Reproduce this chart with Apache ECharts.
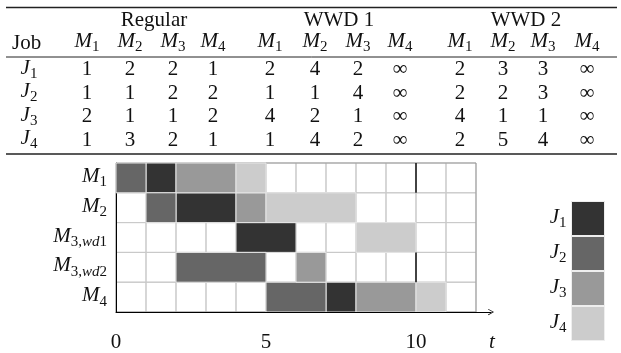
<!DOCTYPE html>
<html>
<head>
<meta charset="utf-8">
<script src="https://cdn.jsdelivr.net/npm/echarts@6/dist/echarts.min.js"></script>
<style>
  html, body { margin: 0; padding: 0; background: #fff; }
  #chart { width: 621px; height: 353px; }
</style>
</head>
<body>
<div id="chart"></div>
<script>
// ---- processing time table ----
const jobIds = ['1', '2', '3', '4'];
const machineIds = ['1', '2', '3', '4'];
const groupNames = ['Regular', 'WWD 1', 'WWD 2'];
const regularTimes = [[1, 2, 2, 1], [1, 1, 2, 2], [2, 1, 1, 2], [1, 3, 2, 1]];
const wwd1Times = [[2, 4, 2, '∞'], [1, 1, 4, '∞'], [4, 2, 1, '∞'], [1, 4, 2, '∞']];
const wwd2Times = [[2, 3, 3, '∞'], [2, 2, 3, '∞'], [4, 1, 1, '∞'], [2, 5, 4, '∞']];

// ---- schedule ----
const machines = ['M1', 'M2', 'M3wd1', 'M3wd2', 'M4'];
const machineLabels = ['{i|M}{s|1}', '{i|M}{s|2}', '{i|M}{s|3,}{si|wd}{s|1}', '{i|M}{s|3,}{si|wd}{s|2}', '{i|M}{s|4}'];
// [machine index, start, end]
const jobJ1 = [[0, 1, 2], [1, 2, 4], [2, 4, 6], [4, 7, 8]];
const jobJ2 = [[0, 0, 1], [1, 1, 2], [3, 2, 5], [4, 5, 7]];
const jobJ3 = [[0, 2, 4], [1, 4, 5], [3, 6, 7], [4, 8, 10]];
const jobJ4 = [[0, 4, 5], [1, 5, 8], [2, 8, 10], [4, 10, 11]];
const jobNames = ['J1', 'J2', 'J3', 'J4'];
const jobColors = ['#333333', '#666666', '#999999', '#cccccc'];
// machine row, time of black boundary
const boundaries = [[0, 10], [3, 10]];
const xTickLabels = [0, 5, 10];
const horizon = 12;

const FONT = '"Liberation Serif", "DejaVu Serif", serif';
const INK = '#111';

// rich styles (label version uses color, graphic version uses fill)
function makeRich(key) {
  const base = { fontFamily: FONT, verticalAlign: 'top' };
  base[key] = INK;
  return {
    r: Object.assign({}, base, { fontSize: 21 }),
    i: Object.assign({}, base, { fontSize: 21, fontStyle: 'italic' }),
    s: Object.assign({}, base, { fontSize: 15, padding: [9, 0, 0, 0] }),
    si: Object.assign({}, base, { fontSize: 15, fontStyle: 'italic', padding: [9, 0, 0, 0] })
  };
}
const labelRich = makeRich('color');
const graphicRich = makeRich('fill');

// table layout
const colX = [87, 130, 173, 213, 270, 315, 358, 400, 460, 503, 543, 587];
const groupX = [154, 339, 526];
const headY = [20.5, 43];
const rowY = [69.5, 93, 116.5, 140];
const ruleY = [7.5, 57, 154];

const graphics = [];
function cell(x, y, text, align) {
  graphics.push({
    type: 'text', x: x, y: y, silent: true,
    style: { text: text, rich: graphicRich, align: align || 'center', verticalAlign: 'middle',
             fontFamily: FONT, fontSize: 21, fill: INK }
  });
}
ruleY.forEach(function (y, k) {
  graphics.push({
    type: 'line', silent: true,
    shape: { x1: 6, y1: y, x2: 617, y2: y },
    style: { stroke: '#222', lineWidth: k === 1 ? 1 : 1.6 }
  });
});
groupNames.forEach(function (g, k) { cell(groupX[k], headY[0], g); });
cell(12, headY[1], 'Job', 'left');
[regularTimes, wwd1Times, wwd2Times].forEach(function (tbl, g) {
  machineIds.forEach(function (m, c) {
    cell(colX[g * 4 + c], headY[1], '{i|M}{s|' + m + '}');
  });
  tbl.forEach(function (row, r) {
    row.forEach(function (v, c) { cell(colX[g * 4 + c], rowY[r], String(v)); });
  });
});
jobIds.forEach(function (j, r) { cell(29, rowY[r], '{i|J}{s|' + j + '}'); });

// ---- render helpers ----
function rowBox(api, row) {
  const c = api.coord([0, row]);
  const h = api.size([0, 1])[1];
  return { top: c[1] - h / 2, h: h };
}
function renderJob(params, api) {
  const row = api.value(0);
  const b = rowBox(api, row);
  const x0 = api.coord([api.value(1), row])[0];
  const x1 = api.coord([api.value(2), row])[0];
  return {
    type: 'rect',
    shape: { x: x0, y: b.top, width: x1 - x0, height: b.h },
    style: { fill: api.visual('color'), stroke: '#e6e6e6', lineWidth: 1 }
  };
}
function renderCell(params, api) {
  const row = api.value(0);
  const b = rowBox(api, row);
  const x0 = api.coord([api.value(1), row])[0];
  const x1 = api.coord([api.value(1) + 1, row])[0];
  return {
    type: 'rect',
    shape: { x: x0, y: b.top, width: x1 - x0, height: b.h },
    style: { fill: 'none', stroke: '#c9c9c9', lineWidth: 1 }
  };
}
function renderFrame(params, api) {
  const top = rowBox(api, 0).top;
  const last = rowBox(api, machines.length - 1);
  const x0 = api.coord([0, 0])[0];
  const x1 = api.coord([horizon, 0])[0];
  return {
    type: 'rect',
    shape: { x: x0, y: top, width: x1 - x0, height: last.top + last.h - top },
    style: { fill: 'none', stroke: '#999', lineWidth: 1 }
  };
}
function renderBoundary(params, api) {
  const row = api.value(0);
  const b = rowBox(api, row);
  const x = api.coord([api.value(1), row])[0];
  return {
    type: 'line',
    shape: { x1: x, y1: b.top, x2: x, y2: b.top + b.h },
    style: { stroke: '#111', lineWidth: 1.5 }
  };
}

const cellData = [];
machines.forEach(function (m, r) {
  for (let t = 0; t < horizon; t++) cellData.push([r, t]);
});

const jobData = [jobJ1, jobJ2, jobJ3, jobJ4];
const jobSeries = jobNames.map(function (name, k) {
  return {
    name: name, type: 'custom', renderItem: renderJob, z: 3,
    itemStyle: { color: jobColors[k] },
    encode: { x: [1, 2], y: 0 },
    data: jobData[k]
  };
});

const chart = echarts.init(document.getElementById('chart'));
chart.setOption({
  animation: false,
  backgroundColor: '#fff',
  graphic: graphics,
  grid: { left: 116, top: 163, width: 375, height: 151 },
  legend: {
    orient: 'vertical', right: 16, top: 201, align: 'right', padding: 0,
    icon: 'rect', itemWidth: 33, itemHeight: 34, itemGap: 0,
    itemStyle: { borderColor: '#eee', borderWidth: 1 },
    selectedMode: false,
    data: jobNames.map(function (n, k) { return { name: n, itemStyle: { color: jobColors[k] } }; }),
    formatter: function (n) { return '{i|J}{s|' + n.slice(1) + '}'; },
    textStyle: { rich: labelRich, color: INK }
  },
  xAxis: {
    type: 'value', min: 0, max: 12.5, interval: 1,
    axisLine: {
      show: true,
      lineStyle: { color: '#000', width: 1 },
      symbol: ['none', 'path://M0,9 L5,0 L10,9 L9,9.6 L5,2.2 L1,9.6 Z'],
      symbolSize: [9, 6]
    },
    axisTick: { show: false },
    splitLine: { show: false },
    axisLabel: {
      margin: 20, fontFamily: FONT, fontSize: 21, color: INK,
      formatter: function (v) { return xTickLabels.indexOf(v) >= 0 ? String(v) : ''; }
    },
    name: 't', nameLocation: 'end', nameGap: 1,
    nameTextStyle: {
      fontFamily: FONT, fontSize: 21, fontStyle: 'italic', color: INK,
      align: 'center', verticalAlign: 'top', padding: [20, 0, 0, 0]
    },
    z: 4
  },
  yAxis: {
    type: 'category', data: machines, inverse: true,
    axisLine: { show: true, lineStyle: { color: '#000', width: 1 } },
    axisTick: { show: false },
    splitLine: { show: false },
    axisLabel: {
      margin: 9, color: INK, rich: labelRich,
      formatter: function (v, i) { return machineLabels[i]; }
    },
    z: 2
  },
  series: [
    { type: 'custom', name: 'cells', renderItem: renderCell, z: 1, silent: true,
      encode: { x: 1, y: 0 }, data: cellData },
    { type: 'custom', name: 'frame', renderItem: renderFrame, z: 1, silent: true,
      encode: { y: 0 }, data: [[0]] }
  ].concat(jobSeries).concat([
    { type: 'custom', name: 'boundary', renderItem: renderBoundary, z: 4, silent: true,
      encode: { x: 1, y: 0 }, data: boundaries }
  ])
});
</script>
</body>
</html>
